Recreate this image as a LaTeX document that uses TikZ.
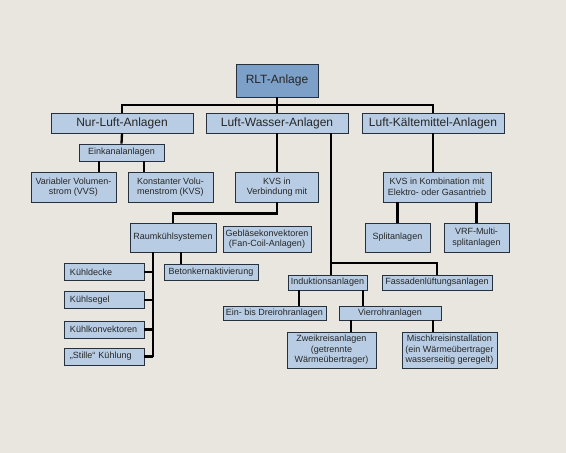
\documentclass[tikz,border=0pt]{standalone}
\usepackage{fontspec}
\setmainfont{Liberation Sans}
\definecolor{paper}{HTML}{E9E5DF}
\definecolor{boxfill}{HTML}{B8CDE4}
\definecolor{rootfill}{HTML}{7DA0C8}
\definecolor{boxline}{HTML}{26313D}

\begin{document}
\begin{tikzpicture}[x=1pt,y=-1pt,box/.style={draw=boxline,line width=0.9pt,fill=boxfill,inner sep=0pt,align=center,text=black!85,font=\fontsize{9}{10.5}\selectfont},head/.style={box,font=\fontsize{12}{14}\selectfont,minimum width=142pt,minimum height=20pt},leaf/.style={box,align=left,text width=68pt,minimum width=80pt,minimum height=17pt},link/.style={line width=2.3pt}]
\fill[paper] (0,0) rectangle (566,453);
\useasboundingbox (0,0) rectangle (566,453);
\coordinate (bus) at (277,105);
\coordinate (fork) at (331,263);
\node[box,fill=rootfill,font=\fontsize{12}{14}\selectfont,minimum width=82pt,minimum height=33pt] (rlt) at (277,80.5) {RLT-Anlage};
\node[head] (nl) at (122,123) {Nur-Luft-Anlagen};
\node[head] (lw) at (277,123) {Luft-Wasser-Anlagen};
\node[head] (lk) at (433,123) {Luft-Kältemittel-Anlagen};
\node[box,minimum width=85pt,minimum height=17pt] (ek) at (121.5,152.5) {Einkanalanlagen};
\node[box,minimum width=85pt,minimum height=30pt] (vvs) at (73.5,187) {Variabler Volumen-\\strom (VVS)};
\node[box,minimum width=85pt,minimum height=30pt] (kvs) at (170.5,187) {Konstanter Volu-\\menstrom (KVS)};
\node[box,minimum width=83pt,minimum height=30pt] (kvsv) at (277,187) {KVS in\\Verbindung mit};
\node[box,minimum width=108pt,minimum height=30pt] (kvsk) at (437,187) {KVS in Kombination mit\\Elektro- oder Gasantrieb};
\node[box,minimum width=65pt,minimum height=29pt] (split) at (397.5,237.5) {Splitanlagen};
\node[box,minimum width=65pt,minimum height=29pt] (vrf) at (476.5,237.5) {VRF-Multi-\\splitanlagen};
\node[box,minimum width=86pt,minimum height=29pt] (rk) at (173,237.5) {Raumkühlsystemen};
\node[box,minimum width=88pt,minimum height=26pt] (fc) at (267,239) {Gebläsekonvektoren\\(Fan-Coil-Anlagen)};
\node[leaf] (kd) at (104,272) {Kühldecke};
\node[leaf] (ks) at (104,300) {Kühlsegel};
\node[leaf] (kk) at (104,329.5) {Kühlkonvektoren};
\node[leaf] (sk) at (104,356.5) {„Stille“ Kühlung};
\node[box,minimum width=94pt,minimum height=16pt] (bk) at (211,272) {Betonkernaktivierung};
\node[box,minimum width=79pt,minimum height=15pt] (ind) at (327.5,282.5) {Induktionsanlagen};
\node[box,minimum width=110pt,minimum height=15pt] (fl) at (437,282.5) {Fassadenlüftungsanlagen};
\node[box,minimum width=103pt,minimum height=14pt] (e3) at (274.5,313) {Ein- bis Dreirohranlagen};
\node[box,minimum width=102pt,minimum height=14pt] (v4) at (390,313) {Vierrohranlagen};
\node[box,minimum width=89pt,minimum height=36pt] (zk) at (331.5,350) {Zweikreisanlagen\\(getrennte\\Wärmeübertrager)};
\node[box,minimum width=95pt,minimum height=36pt] (mk) at (449.5,350) {Mischkreisinstallation\\(ein Wärmeübertrager\\wasserseitig geregelt)};
% connectors
\draw[link] (rlt.south) -- (lw.north);
\draw[link] (nl.north) |- (bus) -| (lk.north);
\draw[link] (nl.south) -- (ek.north);
\draw[link] ([xshift=-22.5pt]ek.south) -- ([xshift=-22.5pt]ek.south |- vvs.north);
\draw[link] ([xshift=22.5pt]ek.south) -- ([xshift=22.5pt]ek.south |- kvs.north);
\draw[link] (lw.south) -- (kvsv.north);
\draw[link] (lw.south -| fork) -- (fork) -- (fork |- ind.north);
\draw[link] (fork) -| (fl.north);
\draw[link] (lk.south) -- (lk.south |- kvsk.north);
\draw[link] (split.north) -- (split.north |- kvsk.south);
\draw[link] (vrf.north) -- (vrf.north |- kvsk.south);
\draw[link] (kvsv.south) -- ++(0,11) -| (rk.north);
\coordinate (spine) at ([xshift=-20pt]rk.south);
\draw[link] (spine) -- (spine |- sk.east);
\draw[link] (kd.east) -- (kd.east -| spine);
\draw[link] (ks.east) -- (ks.east -| spine);
\draw[link] (kk.east) -- (kk.east -| spine);
\draw[link] (sk.east) -- (sk.east -| spine);
\draw[link] ([xshift=8pt]rk.south) -- ([xshift=8pt]rk.south |- bk.north);
\draw[link] ([xshift=-28.5pt]ind.south) -- ([xshift=-28.5pt]ind.south |- e3.north);
\draw[link] ([xshift=35.5pt]ind.south) -- ([xshift=35.5pt]ind.south |- v4.north);
\draw[link] ([xshift=-39pt]v4.south) -- ([xshift=-39pt]v4.south |- zk.north);
\draw[link] ([xshift=43pt]v4.south) -- ([xshift=43pt]v4.south |- mk.north);
\end{tikzpicture}
\end{document}
